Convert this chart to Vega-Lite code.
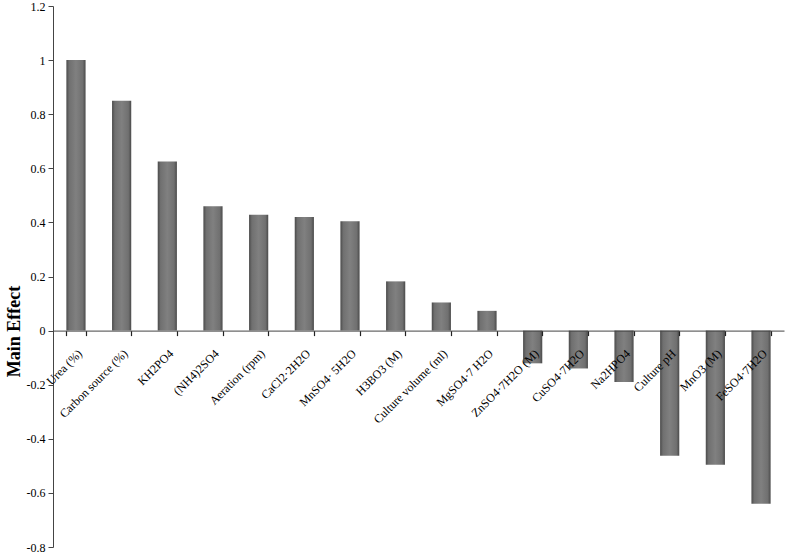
{
  "$schema": "https://vega.github.io/schema/vega-lite/v6.json",
  "width": 731,
  "height": 541,
  "autosize": "none",
  "padding": {"left": 53, "top": 6, "right": 3, "bottom": 7},
  "background": "white",
  "config": {"view": {"stroke": null}, "font": "Liberation Serif"},
  "data": {"values": [
    {"factor": "Urea (%)", "effect": 1.0},
    {"factor": "Carbon source (%)", "effect": 0.85},
    {"factor": "KH2PO4", "effect": 0.625},
    {"factor": "(NH4)2SO4", "effect": 0.46},
    {"factor": "Aeration (rpm)", "effect": 0.428},
    {"factor": "CaCl2·2H2O", "effect": 0.42},
    {"factor": "MnSO4· 5H2O", "effect": 0.404},
    {"factor": "H3BO3 (M)", "effect": 0.182},
    {"factor": "Culture  volume (ml)", "effect": 0.104},
    {"factor": "MgSO4·7 H2O", "effect": 0.073},
    {"factor": "ZnSO4·7H2O (M)", "effect": -0.121},
    {"factor": "CuSO4·7H2O", "effect": -0.14},
    {"factor": "Na2HPO4", "effect": -0.19},
    {"factor": "Culture pH", "effect": -0.463},
    {"factor": "MnO3 (M)", "effect": -0.496},
    {"factor": "FeSO4·7H2O", "effect": -0.64}
  ]},
  "mark": {"type": "bar", "color": {"gradient": "linear", "x1": 0, "x2": 1, "y1": 0, "y2": 0, "stops": [
    {"offset": 0, "color": "#4a4a4a"},
    {"offset": 0.15, "color": "#707070"},
    {"offset": 0.5, "color": "#808080"},
    {"offset": 0.85, "color": "#707070"},
    {"offset": 1, "color": "#4a4a4a"}
  ]}},
  "encoding": {
    "x": {"field": "factor", "type": "nominal", "sort": null,
      "scale": {"paddingInner": 0.58, "paddingOuter": 0.293},
      "axis": {"orient": "bottom", "title": null, "offset": -216.4, "zindex": 1,
        "ticks": true, "tickBand": "extent", "tickSize": 5, "tickWidth": 1.2, "tickColor": "#222",
        "domainColor": "#444", "labelAngle": -45, "labelAlign": "right", "labelBaseline": "top",
        "labelFont": "Liberation Serif", "labelFontSize": 12, "labelColor": "#000", "labelPadding": 12, "labelBound": false, "labelOverlap": false}},
    "y": {"field": "effect", "type": "quantitative",
      "scale": {"domain": [-0.8, 1.2], "nice": false, "zero": false},
      "axis": {"title": "Main Effect", "values": [-0.8, -0.6, -0.4, -0.2, 0, 0.2, 0.4, 0.6, 0.8, 1, 1.2],
        "labelExpr": "'' + datum.value", "grid": false, "domainColor": "#444", "tickColor": "#444", "tickSize": 5,
        "labelFont": "Liberation Serif", "labelFontSize": 12, "labelColor": "#000", "labelPadding": 3,
        "titleFont": "Liberation Serif", "titleFontSize": 18, "titleFontWeight": "bold", "titleColor": "#000",
        "titleX": -39, "titleY": 325, "titleAngle": -90, "titleAlign": "center", "titleBaseline": "middle"}}
  }
}
